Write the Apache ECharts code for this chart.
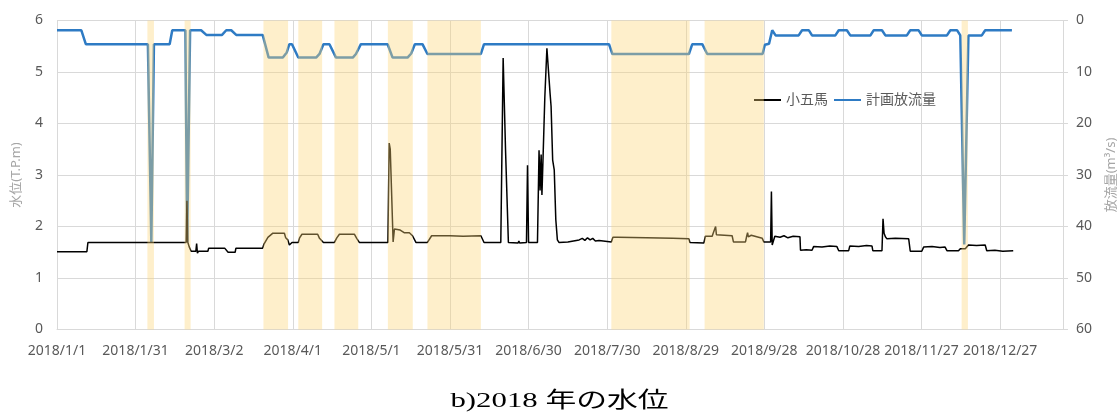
<!DOCTYPE html>
<html>
<head>
<meta charset="utf-8">
<script src="https://cdn.jsdelivr.net/npm/echarts@6/dist/echarts.min.js"></script>
<style>
  html, body { margin: 0; padding: 0; background: #fff; }
  #chart { width: 1119px; height: 414px; }
</style>
</head>
<body>
<div id="chart"></div>
<script>
// Day offsets are counted from 2018/1/1 (day 0).
const tickLabels = ['2018/1/1', '2018/1/31', '2018/3/2', '2018/4/1', '2018/5/1', '2018/5/31',
  '2018/6/30', '2018/7/30', '2018/8/29', '2018/9/28', '2018/10/28', '2018/11/27', '2018/12/27'];

// 計画放流量 (m3/s), right axis
const flowDays = [0, 9.3, 11, 34.7, 36, 37, 43, 44, 49, 49.7, 50.8, 55, 57, 63, 64.6, 66.5, 68.4,
  78.5, 80.8, 86.2, 87.7, 88.7, 89.7, 92.1, 98.9, 100.2, 101.7, 104, 106.5, 112.9, 114.1, 116,
  126.2, 128.1, 133.8, 135.2, 136.6, 139.5, 141.4, 161.8, 163, 210.7, 212, 241.2, 242.5, 246.3,
  248.2, 269.3, 270.2, 271.8, 273, 274.3, 283.1, 284.4, 287, 288.2, 297.1, 298.4, 301.5, 302.8,
  310.5, 311.7, 314.9, 316.2, 324.4, 325.7, 328.9, 330.1, 339.7, 341, 343.6, 344.8, 346.3, 347.9,
  353, 354.3, 364.5];
const flowValues = [1.9, 1.9, 4.6, 4.6, 43, 4.6, 4.6, 1.9, 1.9, 43, 1.9, 1.9, 2.8, 2.8, 1.9, 1.9, 2.8,
  2.8, 7.2, 7.2, 6.2, 4.6, 4.6, 7.2, 7.2, 6.5, 4.6, 4.6, 7.2, 7.2, 6.5, 4.6,
  4.6, 7.2, 7.2, 6.4, 4.6, 4.6, 6.5, 6.5, 4.6, 4.6, 6.5, 6.5, 4.6, 4.6,
  6.5, 6.5, 4.7, 4.5, 1.9, 2.9, 2.9, 1.9, 1.9, 2.9, 2.9, 1.9, 1.9, 2.9,
  2.9, 1.9, 1.9, 2.9, 2.9, 1.9, 1.9, 2.9, 2.9, 1.9, 1.9, 2.9, 43.5, 2.9,
  2.9, 1.9, 1.9];

// 小五馬 water level (T.P.m), left axis
const levelDays = [0, 11.4, 11.8, 25, 25.3, 25.6, 49.3, 49.6, 49.9, 50.5, 51.2, 53, 53.3, 53.6, 54,
  57.6, 57.9, 64, 65.3, 68, 68.3, 78.5, 79, 80.5, 82.4, 86.8, 87.3, 88.1, 88.7, 89.7,
  92.1, 92.6, 93.5, 99.5, 100.2, 101.7, 105.9, 106.8, 107.8, 113.5, 114.4, 115.4,
  126.3, 126.8, 127.2, 127.5, 128, 128.3, 128.8, 131, 132.5, 134.5, 135.7, 137,
  141.4, 143, 150, 155, 161.8, 163, 169.4, 170.3, 171.2, 172.3, 176, 176.3, 176.6,
  179.2, 179.6, 180, 183.4, 184, 184.4, 184.8, 185.1, 185.5, 186.2, 187, 188.2, 188.6,
  189.2, 189.8, 190.4, 191, 191.6, 195, 199.3, 200.5, 201.5, 202.5, 203.5, 204.5, 205.5,
  206.9, 207.2, 211.6, 212.2, 214, 225, 235, 241.2, 241.6, 246.9, 247.5, 250.1, 250.4,
  251.1, 251.4, 251.7, 257.7, 258.2, 262.8, 263.2, 263.6, 263.9, 265, 269.2, 269.8,
  272.4, 272.7, 273, 273.4, 274, 276, 277.5, 279, 281, 283.6, 283.8, 286, 288.2, 288.8,
  292, 295, 297.7, 298.4, 302.2, 302.6, 306, 309, 311.1, 311.4, 314.9, 315.3, 315.7,
  316.2, 316.8, 320, 325.1, 325.7, 330.1, 330.8, 334, 337, 339, 339.7, 344.1, 344.8,
  346.7, 347.9, 351, 354.3, 354.9, 358, 361, 365];
const levelValues = [1.51, 1.51, 1.69, 1.69, 1.72, 1.69, 1.69, 2.5, 1.7, 1.6, 1.52, 1.52, 1.67, 1.48, 1.52,
  1.52, 1.58, 1.58, 1.5, 1.5, 1.58, 1.58, 1.66, 1.79, 1.87, 1.87, 1.78, 1.74, 1.64, 1.69,
  1.69, 1.78, 1.85, 1.85, 1.77, 1.69, 1.69, 1.78, 1.85, 1.85, 1.77, 1.69,
  1.69, 3.62, 3.5, 3.02, 3.0, 1.7, 1.95, 1.93, 1.88, 1.88, 1.82, 1.69,
  1.69, 1.82, 1.82, 1.81, 1.82, 1.69, 1.69, 5.27, 3.5, 1.69, 1.68, 1.72, 1.68,
  1.69, 3.19, 1.69, 1.69, 3.48, 2.7, 3.4, 2.61, 3.28, 4.5, 5.46, 4.59, 4.33,
  3.29, 3.1, 2.13, 1.74, 1.69, 1.7, 1.74, 1.77, 1.73, 1.78, 1.74, 1.77, 1.72,
  1.73, 1.7, 1.7, 1.79, 1.79, 1.78, 1.77, 1.76, 1.69, 1.68, 1.81, 1.81, 1.86,
  1.86, 2.0, 1.84, 1.82, 1.7, 1.7, 1.8, 1.88, 1.8, 1.83, 1.77, 1.7,
  1.7, 2.68, 1.64, 1.62, 1.81, 1.79, 1.82, 1.78, 1.81, 1.8, 1.54, 1.55, 1.54, 1.61,
  1.6, 1.62, 1.61, 1.53, 1.53, 1.62, 1.61, 1.63, 1.62, 1.53, 1.53, 2.15, 1.87,
  1.8, 1.76, 1.77, 1.76, 1.52, 1.52, 1.6, 1.61, 1.59, 1.6, 1.53, 1.53, 1.57,
  1.57, 1.64, 1.63, 1.64, 1.53, 1.54, 1.52, 1.53];

// Shaded periods (start day, end day)
const bandStart = [34.5, 48.7, 78.8, 92.1, 105.9, 126.3, 141.4, 211.6, 247.2, 345.3];
const bandEnd   = [37.0, 51.0, 88.2, 101.2, 115.0, 135.8, 161.8, 241.5, 269.8, 347.7];

const pairs = (xs, ys) => xs.map((x, i) => [x, ys[i]]);
const bands = bandStart.map((s, i) => [s, bandEnd[i]]);

const labelFont = "'Noto Sans', 'Noto Sans CJK JP', sans-serif";
const gridColor = '#D9D9D9';
const textColor = '#595959';

const chart = echarts.init(document.getElementById('chart'), null, { renderer: 'canvas' });
chart.setOption({
  animation: false,
  backgroundColor: '#fff',
  graphic: [{
    type: 'text',
    x: 559.5,
    y: 401.5,
    scaleX: 1.4,
    silent: true,
    style: {
      text: 'b)2018 年の水位',
      fontFamily: "'Liberation Serif', 'Noto Sans CJK JP', serif",
      fontSize: 22,
      fill: '#000',
      align: 'center',
      verticalAlign: 'middle'
    }
  }],
  legend: {
    left: 749,
    top: 88,
    itemWidth: 27,
    itemHeight: 2,
    itemGap: 6,
    icon: 'rect',
    textStyle: { fontFamily: labelFont, fontSize: 14, color: textColor },
    data: ['小五馬', '計画放流量']
  },
  grid: { left: 57, right: 56, top: 20.5, bottom: 84.5, containLabel: false, outerBoundsMode: 'none' },
  xAxis: {
    type: 'value',
    min: 0,
    max: 384,
    interval: 30,
    axisLine: { show: true, lineStyle: { color: gridColor } },
    axisTick: { show: false },
    splitLine: { show: true, lineStyle: { color: gridColor, width: 1 } },
    axisLabel: {
      margin: 15,
      showMaxLabel: false,
      fontFamily: labelFont,
      fontSize: 14,
      color: textColor,
      formatter: v => (v % 30 === 0 ? (tickLabels[v / 30] || '') : '')
    }
  },
  yAxis: [
    {
      type: 'value',
      min: 0,
      max: 6,
      interval: 1,
      name: '水位(T.P.m)',
      nameLocation: 'middle',
      nameGap: 34,
      nameTextStyle: { fontFamily: labelFont, fontSize: 13, color: '#A6A6A6' },
      axisLine: { show: false },
      axisTick: { show: false },
      splitLine: { show: true, lineStyle: { color: gridColor, width: 1 } },
      axisLabel: { margin: 14, fontFamily: labelFont, fontSize: 14, color: textColor }
    },
    {
      type: 'value',
      min: 0,
      max: 60,
      interval: 10,
      inverse: true,
      position: 'right',
      name: '放流量(m³/s)',
      nameLocation: 'middle',
      nameGap: 42,
      nameTextStyle: { fontFamily: labelFont, fontSize: 13, color: '#A6A6A6' },
      axisLine: { show: true, lineStyle: { color: gridColor } },
      axisTick: { show: true, length: 5, inside: false, lineStyle: { color: gridColor } },
      splitLine: { show: false },
      axisLabel: { margin: 13, fontFamily: labelFont, fontSize: 14, color: textColor }
    }
  ],
  series: [
    {
      name: '小五馬',
      type: 'line',
      yAxisIndex: 0,
      data: pairs(levelDays, levelValues),
      showSymbol: false,
      z: 3,
      itemStyle: { color: '#000' },
      lineStyle: { color: '#000', width: 1.5 }
    },
    {
      name: '計画放流量',
      type: 'line',
      yAxisIndex: 1,
      data: pairs(flowDays, flowValues),
      showSymbol: false,
      z: 2,
      itemStyle: { color: '#2E7BC4' },
      lineStyle: { color: '#2E7BC4', width: 2.5 }
    },
    {
      name: 'bands',
      type: 'custom',
      yAxisIndex: 0,
      z: 10,
      silent: true,
      encode: { x: [0, 1] },
      data: bands,
      renderItem: (params, api) => {
        const cs = params.coordSys;
        const x0 = api.coord([api.value(0), 0])[0];
        const x1 = api.coord([api.value(1), 0])[0];
        return {
          type: 'rect',
          shape: { x: x0, y: cs.y, width: x1 - x0, height: cs.height },
          style: { fill: 'rgba(253, 212, 118, 0.38)' }
        };
      }
    }
  ]
});
</script>
</body>
</html>
